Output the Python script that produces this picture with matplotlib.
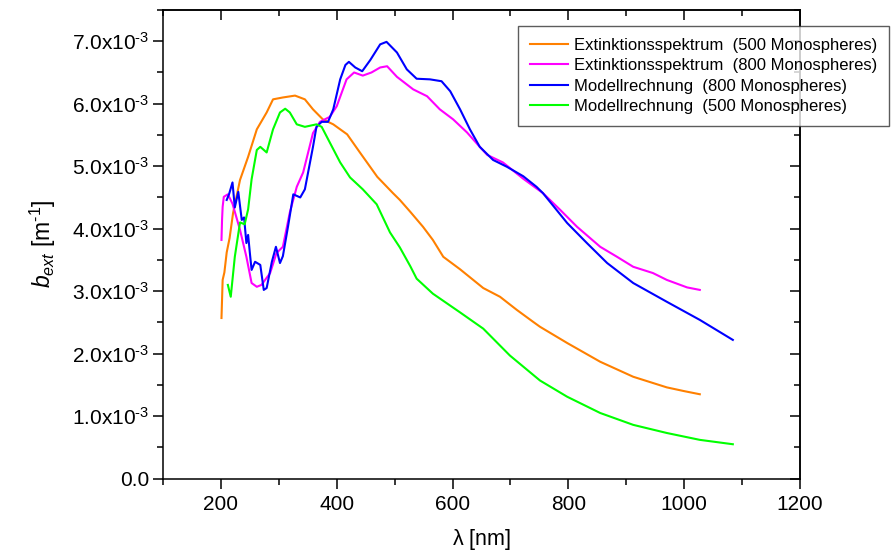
import matplotlib
matplotlib.use("Agg")
import matplotlib.pyplot as plt
from matplotlib.ticker import MultipleLocator, FixedLocator, FuncFormatter

plt.rcParams['font.family'] = ['Liberation Sans', 'DejaVu Sans']
plt.rcParams['mathtext.fontset'] = 'custom'
plt.rcParams['mathtext.rm'] = 'Liberation Sans'
plt.rcParams['mathtext.it'] = 'Liberation Sans:italic'

# Extinction coefficients in units of 1e-3 m^-1, wavelength in nm
ext500_wl = [201, 203, 206, 210, 215, 221, 233, 247, 262, 279, 290, 307, 328, 345,
             359, 376, 394, 418, 440, 470, 497, 509, 527, 549, 566, 584, 613, 653,
             682, 711, 739, 751, 798, 855, 912, 970, 1000, 1027]
ext500_b = [2.57, 3.18, 3.30, 3.62, 3.85, 4.25, 4.78, 5.15, 5.59, 5.86, 6.07, 6.10,
            6.13, 6.07, 5.91, 5.75, 5.67, 5.51, 5.22, 4.83, 4.57, 4.46, 4.27, 4.03,
            3.82, 3.55, 3.35, 3.05, 2.91, 2.70, 2.51, 2.43, 2.17, 1.87, 1.63, 1.46,
            1.40, 1.35]

ext800_wl = [201, 202, 203, 205, 212, 220, 233, 244, 253, 262, 270, 285, 296, 307,
             319, 331, 342, 359, 371, 388, 400, 417, 430, 445, 460, 475, 487, 504,
             532, 556, 578, 601, 625, 647, 660, 687, 722, 756, 786, 815, 855, 884,
             912, 946, 970, 1005, 1027]
ext800_b = [3.82, 4.15, 4.35, 4.51, 4.55, 4.40, 3.98, 3.55, 3.13, 3.07, 3.10, 3.29,
            3.61, 3.71, 4.26, 4.67, 4.90, 5.53, 5.71, 5.79, 5.96, 6.39, 6.50, 6.45,
            6.50, 6.58, 6.60, 6.43, 6.23, 6.12, 5.91, 5.75, 5.54, 5.31, 5.18, 5.06,
            4.80, 4.57, 4.30, 4.03, 3.71, 3.55, 3.39, 3.29, 3.18, 3.06, 3.02]

mod800_wl = [210, 214, 220, 224, 230, 236, 240, 244, 247, 250, 253, 259, 268, 274,
             279, 288, 295, 302, 307, 316, 325, 337, 345, 359, 365, 374, 385, 394,
             406, 415, 421, 432, 444, 458, 475, 486, 504, 521, 538, 561, 581, 596,
             613, 630, 647, 670, 694, 722, 745, 756, 798, 832, 867, 912, 970, 1027,
             1084]
mod800_b = [4.46, 4.55, 4.74, 4.34, 4.59, 4.14, 4.18, 3.77, 3.90, 3.61, 3.34, 3.47,
            3.42, 3.02, 3.05, 3.47, 3.71, 3.45, 3.56, 4.04, 4.55, 4.50, 4.63, 5.31,
            5.63, 5.71, 5.71, 5.91, 6.39, 6.62, 6.67, 6.58, 6.52, 6.70, 6.95, 6.99,
            6.82, 6.55, 6.40, 6.39, 6.36, 6.20, 5.91, 5.59, 5.31, 5.10, 4.99, 4.84,
            4.67, 4.57, 4.09, 3.77, 3.45, 3.13, 2.83, 2.54, 2.22]

mod500_wl = [212, 217, 224, 233, 241, 247, 253, 262, 268, 279, 290, 302, 311, 319,
             331, 345, 365, 374, 388, 406, 423, 445, 469, 492, 509, 527, 538, 566,
             613, 653, 699, 751, 798, 855, 912, 970, 1027, 1084]
mod500_b = [3.10, 2.91, 3.55, 4.10, 4.07, 4.31, 4.79, 5.26, 5.31, 5.22, 5.59, 5.86,
            5.92, 5.86, 5.67, 5.63, 5.67, 5.63, 5.38, 5.06, 4.82, 4.63, 4.39, 3.94,
            3.70, 3.40, 3.20, 2.96, 2.66, 2.40, 1.97, 1.57, 1.31, 1.05, 0.86, 0.73,
            0.62, 0.55]

labels = ["Extinktionsspektrum  (500 Monospheres)",
          "Extinktionsspektrum  (800 Monospheres)",
          "Modellrechnung  (800 Monospheres)",
          "Modellrechnung  (500 Monospheres)"]
colors = ["#FF8000", "#FF00FF", "#0000FF", "#00FF00"]

fig = plt.figure(figsize=(8.95, 5.57), dpi=100)
ax = fig.add_axes([163 / 895, 1 - 478.6 / 557, (800 - 163) / 895, (478.6 - 10) / 557])

series = [(ext500_wl, ext500_b), (ext800_wl, ext800_b),
          (mod800_wl, mod800_b), (mod500_wl, mod500_b)]
for (wl, b), c, lab in zip(series, colors, labels):
    ax.plot(wl, [v * 1e-3 for v in b], color=c, lw=1.5, label=lab)

ax.set_xlim(100, 1200)
ax.set_ylim(0, 7.5e-3)

ax.xaxis.set_major_locator(FixedLocator([200, 400, 600, 800, 1000, 1200]))
ax.xaxis.set_minor_locator(MultipleLocator(100))
ax.yaxis.set_major_locator(MultipleLocator(1e-3))
ax.yaxis.set_minor_locator(MultipleLocator(0.5e-3))


def yfmt(v, pos):
    n = round(v * 1e3, 1)
    if abs(n) < 1e-9:
        return "0.0"
    return r"$\mathregular{%.1fx10^{\text{-3}}}$" % n


ax.yaxis.set_major_formatter(FuncFormatter(yfmt))

for sp in ax.spines.values():
    sp.set_linewidth(1.1)

ax.tick_params(which='major', direction='out', length=7, width=1.1, labelsize=15,
               top=False, right=False, pad=3)
ax.tick_params(axis='x', which='major', pad=5)
ax.tick_params(which='minor', direction='out', length=4, width=1.1,
               top=False, right=False)

# Mirrored inward ticks on the top and right edges
top = ax.secondary_xaxis('top')
top.xaxis.set_major_locator(FixedLocator([200, 400, 600, 800, 1000, 1200]))
top.xaxis.set_minor_locator(MultipleLocator(100))
top.tick_params(which='major', direction='in', length=7, width=1.1, labeltop=False)
top.tick_params(which='minor', direction='in', length=4, width=1.1)
top.spines['top'].set_linewidth(1.1)

right = ax.secondary_yaxis('right')
right.yaxis.set_major_locator(MultipleLocator(1e-3))
right.yaxis.set_minor_locator(MultipleLocator(0.5e-3))
right.tick_params(which='major', direction='in', length=7, width=1.1, labelright=False)
right.tick_params(which='minor', direction='in', length=4, width=1.1)
right.spines['right'].set_linewidth(1.1)

ax.set_xlabel(r"$\mathregular{\lambda\ [nm]}$", fontsize=15.5, labelpad=9)
ax.set_ylabel(r"$b_{ext}\ \mathregular{[m^{\text{-1}}]}$", fontsize=16.5, labelpad=10)

leg = ax.legend(loc='upper left', bbox_to_anchor=(518 / 895, 1 - 26 / 557),
                bbox_transform=fig.transFigure, fontsize=12, frameon=True,
                fancybox=False, edgecolor='#333333', handlelength=2.3,
                handletextpad=0.35, borderpad=0.7, labelspacing=0.33,
                borderaxespad=0)
leg.get_frame().set_linewidth(1.0)

fig.savefig("out.png", dpi=100)
